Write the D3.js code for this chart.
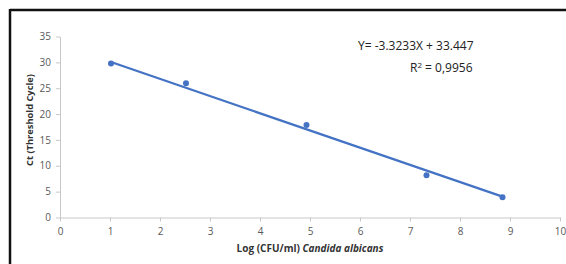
<!DOCTYPE html>
<html><head><meta charset="utf-8">
<script src="https://cdn.jsdelivr.net/npm/d3@7"></script>
<style>body{margin:0;background:#fff;}svg{display:block;}</style>
</head><body>
<svg id="c" width="566" height="264"></svg>
<script>
const logCFU = [1.02, 2.52, 4.93, 7.33, 8.85];
const ctValues = [29.8, 25.95, 17.9, 8.15, 3.9];
const slope = -3.3233, intercept = 33.447;
const xTicks = [0,1,2,3,4,5,6,7,8,9,10];
const yTicks = [0,5,10,15,20,25,30,35];

const svg = d3.select("#c");
const font = "'Open Sans', 'Liberation Sans', sans-serif";
const x = d3.scaleLinear().domain([0,10]).range([60,560]);
const y = d3.scaleLinear().domain([0,35]).range([217.5,36.5]);

// frame
svg.append("line").attr("x1",10).attr("x2",566).attr("y1",10).attr("y2",10).attr("stroke","#111").attr("stroke-width",2.5);
svg.append("line").attr("x1",10).attr("x2",10).attr("y1",9).attr("y2",264).attr("stroke","#111").attr("stroke-width",2.5);

const xa = svg.append("g").attr("transform",`translate(0,${y(0)})`)
  .call(d3.axisBottom(x).tickValues(xTicks).tickSize(4).tickSizeOuter(0).tickPadding(6));
const ya = svg.append("g").attr("transform",`translate(${x(0)},0)`)
  .call(d3.axisLeft(y).tickValues(yTicks).tickSize(4).tickSizeOuter(0).tickPadding(5));
[xa,ya].forEach(a=>{
  a.selectAll("path,line").attr("stroke","#c8c8c8");
  a.selectAll("text").attr("fill","#595959").style("font-family",font).style("font-size","10px");
});

// trendline
const x0 = d3.min(logCFU), x1 = d3.max(logCFU);
svg.append("line").attr("x1",x(x0)).attr("y1",y(intercept+slope*x0))
  .attr("x2",x(x1)).attr("y2",y(intercept+slope*x1))
  .attr("stroke","#4472c4").attr("stroke-width",2.2);

svg.selectAll("circle.pt").data(logCFU).enter().append("circle")
  .attr("class","pt").attr("cx",d=>x(d)).attr("cy",(d,i)=>y(ctValues[i])).attr("r",3)
  .attr("fill","#4472c4");

// equation
svg.append("text").attr("x",358).attr("y",50).style("font-family",font).style("font-size","12px").attr("fill","#222")
  .text("Y= -3.3233X + 33.447");
const r = svg.append("text").attr("x",410).attr("y",72).style("font-family",font).style("font-size","12px").attr("fill","#222");
r.append("tspan").text("R");
r.append("tspan").attr("dy",-4).style("font-size","8px").text("2");
r.append("tspan").attr("dy",4).text(" = 0,9956");

// axis titles
const xt = svg.append("text").attr("x",310).attr("y",252).attr("text-anchor","middle")
  .style("font-family",font).style("font-size","10px").style("font-weight","bold").attr("fill","#333");
xt.append("tspan").text("Log (CFU/ml) ");
xt.append("tspan").style("font-style","italic").text("Candida albicans");

svg.append("text").attr("transform","translate(33,120) rotate(-90)").attr("text-anchor","middle")
  .style("font-family",font).style("font-size","9.3px").style("font-weight","bold").attr("fill","#333")
  .text("Ct (Threshold Cycle)");
</script>
</body></html>
